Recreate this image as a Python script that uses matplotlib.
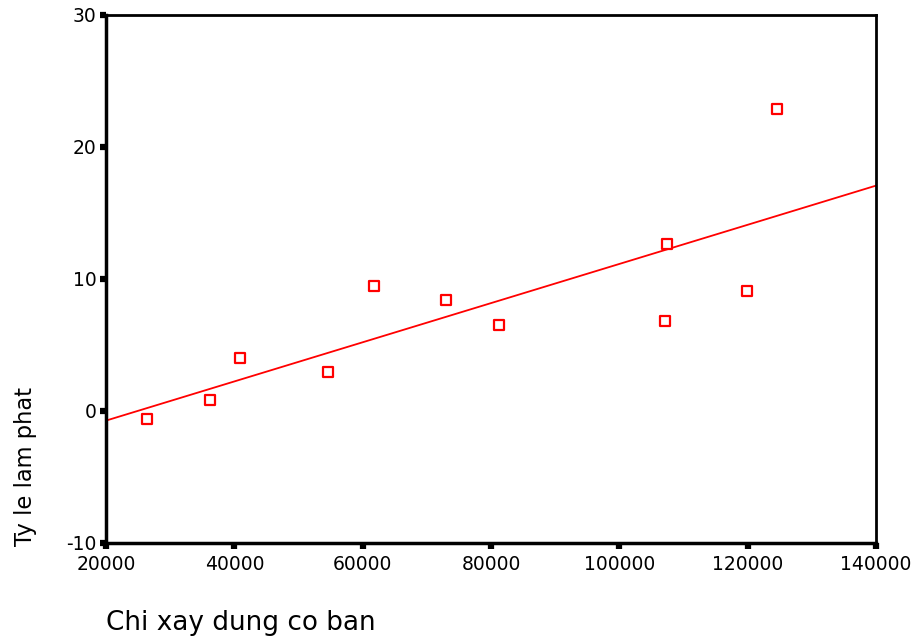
import numpy as np
import matplotlib
matplotlib.use("Agg")
import matplotlib.pyplot as plt

chi_xay_dung = [26400, 36200, 40900, 54600, 61800, 73000, 81200, 107400, 107100, 119900, 124600]
ty_le_lam_phat = [-0.6, 0.8, 4.0, 2.95, 9.45, 8.4, 6.5, 12.65, 6.8, 9.1, 22.9]
x_ticks = [20000, 40000, 60000, 80000, 100000, 120000, 140000]
y_ticks = [-10, 0, 10, 20, 30]

plt.rcParams['font.family'] = ['DejaVu Sans']
plt.rcParams['axes.unicode_minus'] = False

fig = plt.figure(figsize=(9.16, 6.37), dpi=100)
ax = fig.add_axes([106/916, 1-543/637, (876-106)/916, (543-15)/637])

ax.scatter(chi_xay_dung, ty_le_lam_phat, marker='s', s=42, facecolors='white',
           edgecolors='#ff0000', linewidths=1.6, zorder=3)

slope, intercept = np.polyfit(chi_xay_dung, ty_le_lam_phat, 1)
xl = np.array([x_ticks[0], x_ticks[-1]])
ax.plot(xl, slope*xl + intercept, color='#ff0000', lw=1.3, zorder=2)

ax.set_xlim(x_ticks[0], x_ticks[-1])
ax.set_ylim(y_ticks[0], y_ticks[-1])
ax.set_xticks(x_ticks)
ax.set_yticks(y_ticks)
ax.set_xticklabels([str(v) for v in x_ticks])
ax.tick_params(direction='out', length=4, width=4.5, labelsize=13.5, pad=3)
ax.tick_params(axis='x', pad=4.5)
for s in ['left', 'bottom']:
    ax.spines[s].set_linewidth(2.5)
for s in ['top', 'right']:
    ax.spines[s].set_linewidth(2)

fig.text(106/916, 1-623/637, 'Chi xay dung co ban', fontsize=18.9, ha='left', va='center')
fig.text(26/916, 1-546/637, 'Ty le lam phat', fontsize=16.3, rotation=90, ha='center', va='bottom')

fig.savefig('out.png', dpi=100)
